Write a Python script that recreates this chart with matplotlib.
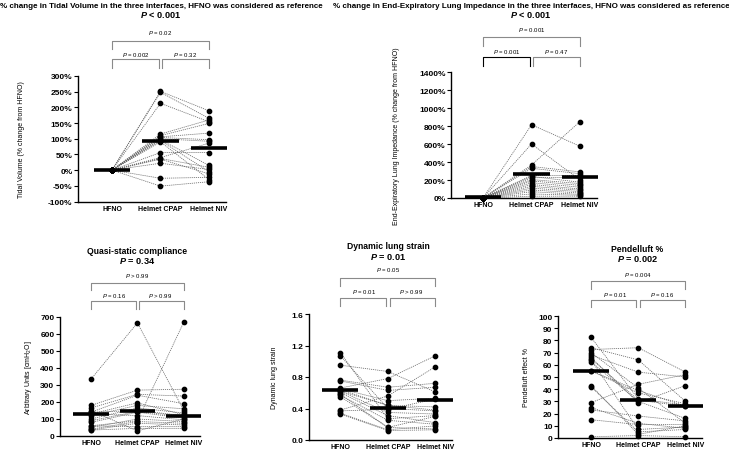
import numpy as np
import matplotlib
matplotlib.use("Agg")
import matplotlib.pyplot as plt
import matplotlib.transforms as mtransforms

plt.rcParams['font.family'] = ['Liberation Sans', 'DejaVu Sans']
plt.rcParams['mathtext.fontset'] = 'custom'
plt.rcParams['mathtext.rm'] = 'Liberation Sans'
plt.rcParams['mathtext.it'] = 'Liberation Sans:italic'
plt.rcParams['mathtext.bf'] = 'Liberation Sans:bold'
plt.rcParams['mathtext.bfit'] = 'Liberation Sans:bold:italic'

groups = ['HFNO', 'Helmet CPAP', 'Helmet NIV']

# --- Tidal volume (% change from HFNO), one entry per patient
tv_hfno = [0] * 18
tv_cpap = [251, 248, 213, 115, 110, 106, 104, 100, 97, 94, 90, 56, 40, 37, 35, 22, -26, -51]
tv_niv = [189, 165, 154, 160, 149, 118, 97, 92, 15, -5, -30, 56, 86, 9, -12, 2, -23, -37]
tv_bar = [0, 93, 70]

# --- End-expiratory lung impedance (% change from HFNO)
eeli_hfno = [0] * 18
eeli_cpap = [814, 600, 367, 350, 330, 250, 240, 225, 205, 190, 170, 150, 130, 110, 90, 70, 45, 20]
eeli_niv = [575, 200, 850, 290, 270, 250, 175, 230, 160, 140, 120, 100, 85, 70, 55, 40, 30, 20]
eeli_bar = [8, 263, 237]

# --- Quasi-static compliance
cst_hfno = [335, 60, 180, 165, 140, 130, 120, 100, 140, 90, 80, 130, 50, 40, 35, 60, 35, 150]
cst_cpap = [665, 90, 270, 245, 240, 195, 180, 165, 150, 145, 140, 120, 100, 85, 75, 55, 45, 30]
cst_niv = [150, 670, 275, 235, 190, 125, 160, 135, 120, 115, 105, 95, 85, 75, 65, 55, 45, 100]
cst_bar = [130, 150, 120]

# --- Dynamic lung strain
dls_hfno = [1.11, 1.07, 0.95, 0.76, 0.75, 0.66, 0.65, 0.64, 0.62, 0.60, 0.57, 0.55, 0.38, 0.37, 0.34, 0.33, 0.58, 0.62]
dls_cpap = [0.27, 0.40, 0.87, 0.67, 0.63, 0.78, 0.50, 0.44, 0.35, 0.31, 0.25, 0.16, 0.56, 0.39, 0.13, 0.12, 0.16, 0.44]
dls_niv = [0.31, 0.37, 0.61, 0.72, 0.67, 1.07, 0.53, 0.42, 0.33, 0.22, 0.20, 0.14, 0.93, 0.52, 0.18, 0.13, 0.30, 0.38]
dls_bar = [0.64, 0.41, 0.51]

# --- Pendelluft
pen_hfno = [82.5, 74, 72.5, 70, 68, 65, 62.5, 55, 43, 42, 29, 25, 23, 15, 1, 66, 64, 55]
pen_cpap = [32, 64, 74, 41, 54, 31, 30, 37, 3, 5, 44, 12, 18, 11, 2, 29, 7, 39]
pen_niv = [27, 30, 54, 12, 50, 26, 16, 28, 10, 7, 52, 8, 14, 11, 1, 43, 9, 26]
pen_bar = [55, 31, 26]

W, H = 729, 452
fig = plt.figure(figsize=(W / 100, H / 100), dpi=100)


def px_axes(left, top, right, bottom):
    return fig.add_axes([left / W, 1 - bottom / H, (right - left) / W, (bottom - top) / H])


def fy(py):
    return 1 - py / H


def panel(box, xlim, series, bars, yticks, yfmt, ylabel, ylabel_x, title, ptxt,
          title_x, title_y, brk, p_all, p_left, p_right, left_dark=False, title_fs=6.2):
    ax = px_axes(*box)
    vals = np.array(series, dtype=float)
    x = np.arange(3)
    for row in vals.T:
        ax.plot(x, row, ls=(0, (1.5, 1.2)), color='#666666', lw=0.55, zorder=2, clip_on=False)
    for i in range(3):
        ax.plot(np.full(vals.shape[1], i), vals[i], 'o', color='black', ms=3.1,
                zorder=3, clip_on=False)
        ax.plot([i - 0.38, i + 0.38], [bars[i], bars[i]], color='black', lw=2.6,
                solid_capstyle='butt', zorder=4, clip_on=False)
    ax.set_xlim(*xlim)
    ax.set_ylim(yticks[0], yticks[-1])
    ax.set_yticks(yticks)
    ax.set_yticklabels([yfmt.format(v) for v in yticks], fontsize=6, fontweight='bold')
    ax.set_xticks(x)
    ax.set_xticklabels(groups, fontsize=5, fontweight='bold')
    for s in ['top', 'right']:
        ax.spines[s].set_visible(False)
    for s in ['left', 'bottom']:
        ax.spines[s].set_linewidth(1.0)
    ax.tick_params(axis='y', direction='out', length=3, width=0.8, pad=1)
    ax.tick_params(axis='x', direction='out', length=0, pad=2.5)
    ax.patch.set_alpha(0)

    fig.text(ylabel_x / W, fy((box[1] + box[3]) / 2), ylabel, rotation=90,
             ha='center', va='center', fontsize=5)
    fig.text(title_x / W, fy(title_y[0]), title, ha='center', va='center',
             fontsize=title_fs, fontweight='bold')
    fig.text(title_x / W, fy(title_y[1]), ptxt, ha='center', va='center',
             fontsize=6.6, fontweight='bold')

    tr = mtransforms.blended_transform_factory(ax.transData, fig.transFigure)
    t_txt, t_line, t_leg, l_txt, l_line, l_leg = brk
    gray = '#8a8a8a'
    ax.plot([0, 0, 2, 2], [fy(t_leg), fy(t_line), fy(t_line), fy(t_leg)],
            color=gray, lw=0.8, transform=tr, clip_on=False)
    ax.text(1, fy(t_txt), p_all, transform=tr, ha='center', va='center', fontsize=4.3)
    ax.plot([0, 0, 0.96, 0.96], [fy(l_leg), fy(l_line), fy(l_line), fy(l_leg)],
            color='black' if left_dark else gray, lw=0.8, transform=tr, clip_on=False)
    ax.plot([1.04, 1.04, 2, 2], [fy(l_leg), fy(l_line), fy(l_line), fy(l_leg)],
            color=gray, lw=0.8, transform=tr, clip_on=False)
    ax.text(0.5, fy(l_txt), p_left, transform=tr, ha='center', va='center', fontsize=4.3)
    ax.text(1.5, fy(l_txt), p_right, transform=tr, ha='center', va='center', fontsize=4.3)
    return ax


P = r'$\it{P}$'
PB = r'$\mathbfit{P}$'

panel((78, 77, 226, 202.5), (-0.7, 2.35), [tv_hfno, tv_cpap, tv_niv], tv_bar,
      list(range(-100, 301, 50)), '{}%', 'Tidal Volume (% change from HFNO)', 22,
      '% change in Tidal Volume in the three interfaces, HFNO was considered as reference',
      PB + ' < 0.001', 161, (6, 15), (33, 42, 50, 55, 60, 69),
      P + ' = 0.02', P + ' = 0.002', P + ' = 0.32', title_fs=5.75)

panel((451, 73, 597, 199), (-0.66, 2.35), [eeli_hfno, eeli_cpap, eeli_niv], eeli_bar,
      list(range(0, 1401, 200)), '{}%', 'End-Expiratory Lung Impedance (% change from HFNO)', 397,
      '% change in End-Expiratory Lung Impedance in the three interfaces, HFNO was considered as reference',
      PB + ' < 0.001', 531, (6, 15), (30, 38, 47, 52, 58, 67),
      P + ' = 0.001', P + ' = 0.001', P + ' = 0.47', left_dark=True, title_fs=5.75)

panel((60, 318, 200, 437), (-0.67, 2.35), [cst_hfno, cst_cpap, cst_niv], cst_bar,
      list(range(0, 701, 100)), '{}', r'Arbitrary Units [cmH$_2$O]', 28,
      'Quasi-static compliance', PB + ' = 0.34', 137, (252, 261), (276, 284, 291, 296, 302, 310),
      P + ' > 0.99', P + ' = 0.16', P + ' > 0.99')

panel((309, 315, 452, 441), (-0.66, 2.35), [dls_hfno, dls_cpap, dls_niv], dls_bar,
      [0.0, 0.4, 0.8, 1.2, 1.6], '{:.1f}', 'Dynamic lung strain', 275,
      'Dynamic lung strain', PB + ' = 0.01', 388, (247, 257), (270, 279, 287, 292, 299, 307),
      P + ' = 0.05', P + ' = 0.01', P + ' > 0.99')

panel((558, 317, 702, 439), (-0.7, 2.35), [pen_hfno, pen_cpap, pen_niv], pen_bar,
      list(range(0, 101, 10)), '{}', 'Pendelluft effect %', 526,
      'Pendelluft %', PB + ' = 0.002', 637, (250, 259), (275, 282, 290, 295, 301, 308),
      P + ' = 0.004', P + ' = 0.01', P + ' = 0.16')

fig.savefig('out.png', dpi=100)
